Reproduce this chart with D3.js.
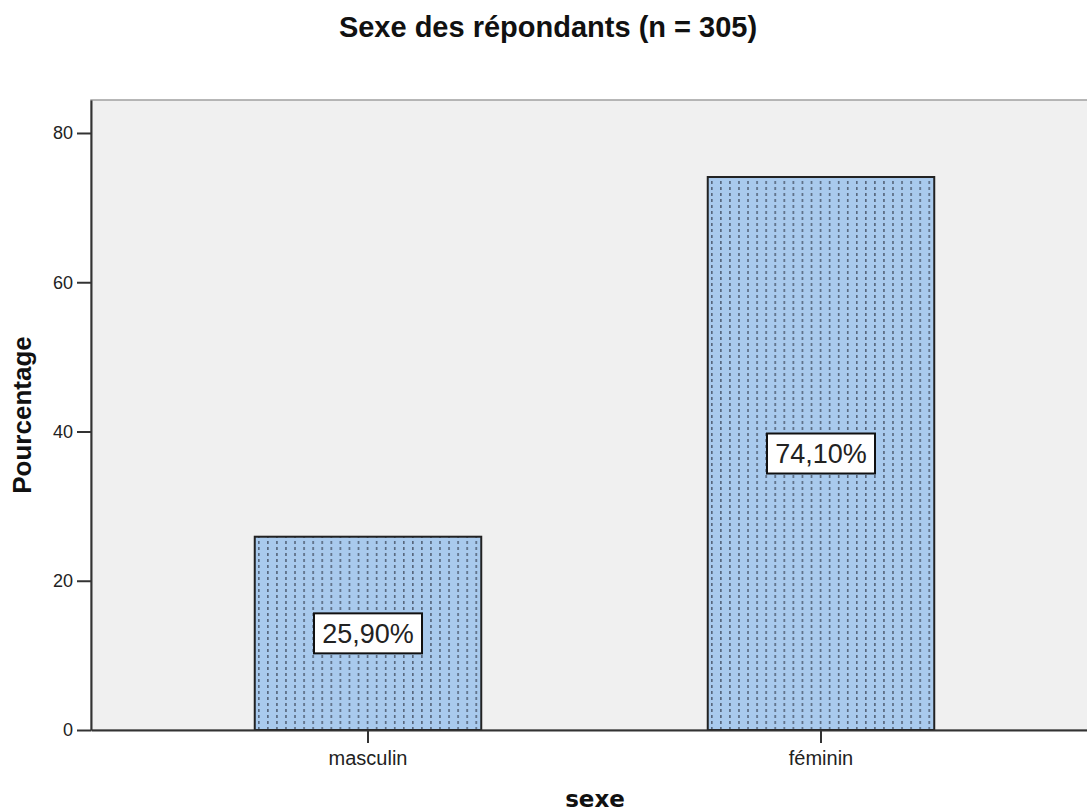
<!DOCTYPE html>
<html lang="fr">
<head>
    <meta charset="UTF-8">
    <title>Sexe des répondants</title>
    <script src="https://d3js.org/d3.v7.min.js"></script>
    <style>
        body {
            margin: 0;
            padding: 0;
            background: #fff;
            overflow: hidden;
        }
        svg {
            display: block;
        }
    </style>
</head>
<body>
    <div id="chart"></div>
    <script>
        // données
        const categories = ["masculin", "féminin"];
        const percentages = [25.9, 74.1];
        const valueLabels = ["25,90%", "74,10%"];
        const yTicks = [0, 20, 40, 60, 80];

        const width = 1087, height = 812;
        // zone du graphique (déborde à droite comme dans l'original)
        const plot = { left: 91, top: 100, right: 1098, bottom: 730 };

        const svg = d3.select("#chart")
            .append("svg")
            .attr("width", width)
            .attr("height", height);

        svg.append("defs")
            .html(`
        <pattern id="dash-fill" patternUnits="userSpaceOnUse" x="258" y="0" width="9.06" height="6">
            <rect width="9.06" height="6" fill="#a9caed"></rect>
            <rect x="0" y="1" width="1.6" height="3" fill="#56667c"></rect>
        </pattern>
        `);

        const x = d3.scaleBand()
            .domain(categories)
            .range([plot.left, plot.right])
            .paddingInner(0.5)
            .paddingOuter(0.3615);

        const y = d3.scaleLinear()
            .domain([0, 84.42])
            .range([plot.bottom, plot.top]);

        // fond gris
        svg.append("rect")
            .attr("x", plot.left)
            .attr("y", plot.top)
            .attr("width", plot.right - plot.left)
            .attr("height", plot.bottom - plot.top)
            .attr("fill", "#f0f0f0")
            .attr("stroke", "#a0a0a0")
            .attr("stroke-width", 1.5);

        // barres
        svg.selectAll(".bar")
            .data(percentages)
            .enter().append("rect")
            .attr("class", "bar")
            .attr("x", (d, i) => x(categories[i]))
            .attr("y", d => y(d))
            .attr("width", x.bandwidth())
            .attr("height", d => y(0) - y(d))
            .attr("fill", "url(#dash-fill)")
            .attr("stroke", "#222")
            .attr("stroke-width", 2);

        // étiquettes des valeurs
        const lab = svg.selectAll(".val")
            .data(percentages)
            .enter().append("g")
            .attr("class", "val")
            .attr("transform", (d, i) =>
                `translate(${x(categories[i]) + x.bandwidth() / 2},${y(d / 2)})`);

        lab.append("rect")
            .attr("x", -54)
            .attr("y", -20)
            .attr("width", 108)
            .attr("height", 40)
            .attr("fill", "#fff")
            .attr("stroke", "#111")
            .attr("stroke-width", 2);

        lab.append("text")
            .attr("text-anchor", "middle")
            .attr("dy", "0.36em")
            .style("font-family", "'Liberation Sans', Arial, sans-serif")
            .style("font-size", "27px")
            .attr("fill", "#222")
            .text((d, i) => valueLabels[i]);

        // axe Y
        const yAxis = svg.append("g")
            .attr("transform", `translate(${plot.left},0)`)
            .call(d3.axisLeft(y).tickValues(yTicks).tickSize(14).tickSizeOuter(0).tickPadding(4).tickFormat(d3.format("d")));
        yAxis.select(".domain").attr("stroke", "#333").attr("stroke-width", 2);
        yAxis.selectAll(".tick line").attr("stroke", "#333").attr("stroke-width", 2);
        yAxis.selectAll(".tick text")
            .style("font-family", "'Liberation Sans', Arial, sans-serif")
            .style("font-size", "18px")
            .attr("fill", "#222");

        // axe X
        const xAxis = svg.append("g")
            .attr("transform", `translate(0,${plot.bottom})`)
            .call(d3.axisBottom(x).tickSize(13).tickSizeOuter(0).tickPadding(8));
        xAxis.select(".domain").attr("stroke", "#333").attr("stroke-width", 2);
        xAxis.selectAll(".tick line").attr("stroke", "#333").attr("stroke-width", 2);
        xAxis.selectAll(".tick text")
            .style("font-family", "'Liberation Sans', Arial, sans-serif")
            .style("font-size", "20px")
            .attr("fill", "#222");

        // titres
        svg.append("text")
            .attr("x", 548)
            .attr("y", 37)
            .attr("text-anchor", "middle")
            .style("font-family", "'Liberation Sans', Arial, sans-serif")
            .style("font-weight", "bold")
            .style("font-size", "29px")
            .attr("fill", "#111")
            .text("Sexe des répondants (n = 305)");

        svg.append("text")
            .attr("transform", `translate(31,${(plot.top + plot.bottom) / 2}) rotate(-90)`)
            .attr("text-anchor", "middle")
            .style("font-family", "'Liberation Sans', Arial, sans-serif")
            .style("font-weight", "bold")
            .style("font-size", "26px")
            .attr("fill", "#111")
            .text("Pourcentage");

        svg.append("text")
            .attr("x", 595)
            .attr("y", 807)
            .attr("text-anchor", "middle")
            .style("font-family", "'DejaVu Sans', sans-serif")
            .style("font-weight", "bold")
            .style("font-size", "23px")
            .attr("fill", "#111")
            .text("sexe");
    </script>
</body>
</html>
